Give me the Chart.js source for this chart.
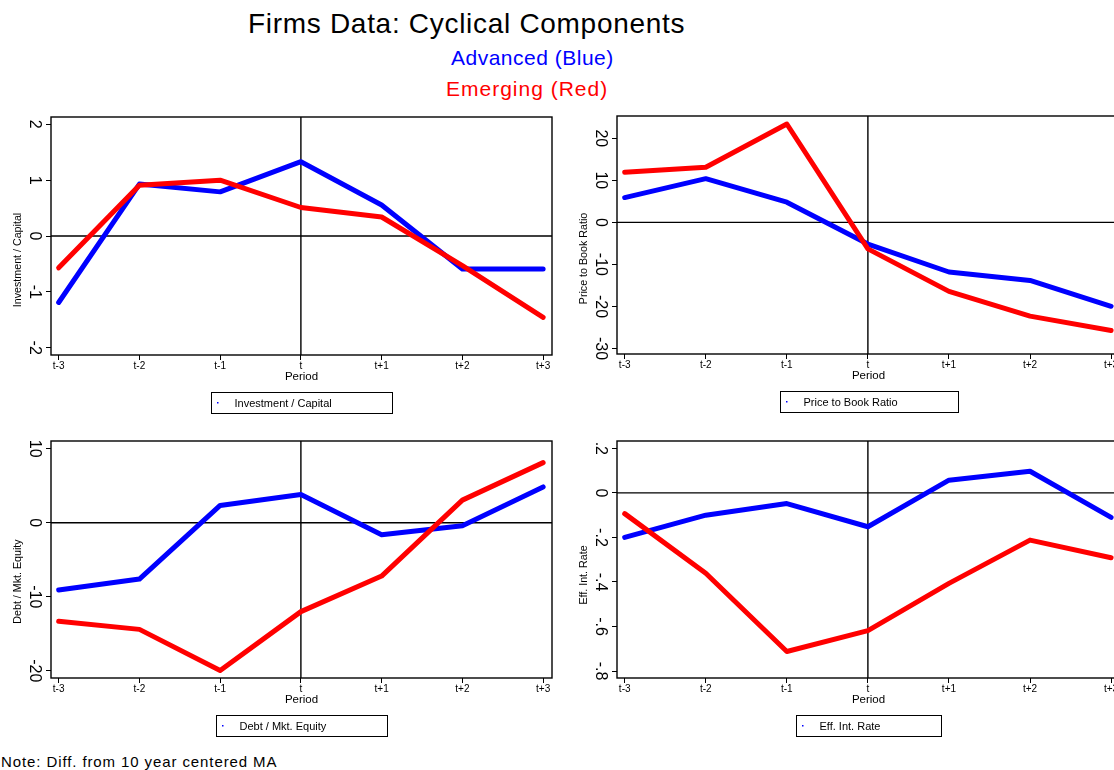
<!DOCTYPE html>
<html>
<head>
<meta charset="utf-8">
<title>Firms Data: Cyclical Components</title>
<script src="https://cdn.jsdelivr.net/npm/chart.js@4.4.0/dist/chart.umd.min.js"></script>
<style>
  html, body { margin: 0; padding: 0; background: #fff; overflow: hidden; }
  #page { position: relative; width: 1114px; height: 770px; overflow: hidden;
          font-family: "Liberation Sans", Arial, sans-serif; }
  .txt { position: absolute; white-space: nowrap; line-height: 1; }
  canvas { position: absolute; }
</style>
</head>
<body>
<div id="page">
  <div class="txt" style="left:248px;top:10px;font-size:28px;letter-spacing:0.7px;color:#000">Firms Data: Cyclical Components</div>
  <div class="txt" style="left:451px;top:47px;font-size:21px;letter-spacing:0.5px;color:#0000ff">Advanced (Blue)</div>
  <div class="txt" style="left:446px;top:78px;font-size:21px;letter-spacing:1px;color:#ff0000">Emerging (Red)</div>

  <canvas id="panelInv"  width="560" height="310" style="left:0;top:110px"></canvas>
  <canvas id="panelPtb"  width="570" height="310" style="left:560px;top:110px"></canvas>
  <canvas id="panelDebt" width="560" height="310" style="left:0;top:434px"></canvas>
  <canvas id="panelRate" width="570" height="310" style="left:560px;top:434px"></canvas>

  <div class="txt" style="left:1px;top:754px;font-size:15px;letter-spacing:0.9px;color:#000">Note: Diff. from 10 year centered MA</div>
</div>

<script>
// Event window around the cycle turning point
const periods = ['t-3', 't-2', 't-1', 't', 't+1', 't+2', 't+3'];

// Investment / Capital
const invCapAdvanced = [-1.19, 0.93, 0.79, 1.33, 0.555, -0.59, -0.59];
const invCapEmerging = [-0.57, 0.91, 1.00, 0.51, 0.34, -0.53, -1.455];
const invCapTicks    = [-2, -1, 0, 1, 2];

// Price to Book Ratio
const ptbAdvanced = [5.9, 10.4, 4.8, -5.15, -11.8, -13.8, -19.95];
const ptbEmerging = [11.9, 13.1, 23.4, -6.3, -16.4, -22.3, -25.7];
const ptbTicks    = [-30, -20, -10, 0, 10, 20];

// Debt / Mkt. Equity
const debtAdvanced = [-9.08, -7.6, 2.34, 3.82, -1.62, -0.4, 4.85];
const debtEmerging = [-13.3, -14.4, -19.95, -12.0, -7.2, 3.06, 8.13];
const debtTicks    = [-20, -10, 0, 10];

// Eff. Int. Rate
const rateAdvanced = [-0.2, -0.1, -0.048, -0.152, 0.057, 0.097, -0.11];
const rateEmerging = [-0.093, -0.361, -0.712, -0.618, -0.406, -0.212, -0.291];
const rateTicks    = [-0.8, -0.6, -0.4, -0.2, 0, 0.2];

const FONT = '"Liberation Sans", Arial, sans-serif';
const BLUE = '#0000ff';
const RED = '#ff0000';
const Y_TICK_SIZE = 16;

// Stata-style numbers: ".2" and "-.4" without the leading zero
function shortNumber(v) {
  return String(Math.round(v * 1000) / 1000).replace(/^(-?)0\./, '$1.');
}

const measureCtx = document.createElement('canvas').getContext('2d');
function widestLabel(values) {
  measureCtx.font = Y_TICK_SIZE + 'px ' + FONT;
  return Math.max(...values.map(v => measureCtx.measureText(shortNumber(v)).width));
}

// Frame, zero line, vertical line at t, rotated y title and boxed legend
const panelDecor = {
  id: 'panelDecor',
  beforeDatasetsDraw(chart, args, opts) {
    const { ctx, chartArea: a, scales: { x, y } } = chart;
    const y0 = y.getPixelForValue(0);
    const xt = x.getPixelForValue(periods.indexOf('t'));
    ctx.save();
    ctx.strokeStyle = '#000';
    ctx.lineWidth = 1.4;
    ctx.beginPath();
    ctx.moveTo(a.left, y0); ctx.lineTo(a.right, y0);
    ctx.moveTo(xt, a.top);  ctx.lineTo(xt, a.bottom);
    ctx.stroke();
    ctx.strokeRect(a.left, a.top, a.right - a.left, a.bottom - a.top);
    ctx.restore();
  },
  afterDraw(chart, args, opts) {
    const { ctx, chartArea: a } = chart;
    ctx.save();
    // y-axis title
    ctx.font = '10.7px ' + FONT;
    ctx.fillStyle = '#000';
    ctx.textAlign = 'center';
    ctx.textBaseline = 'middle';
    ctx.translate(a.left - 32.5, (a.top + a.bottom) / 2 + opts.titleShift);
    ctx.rotate(-Math.PI / 2);
    ctx.fillText(opts.name, 0, 0);
    ctx.restore();

    // legend box under the plot
    ctx.save();
    ctx.font = '11px ' + FONT;
    const w = ctx.measureText(opts.name).width;
    const boxW = Math.round(23 + w + 61);
    const boxH = 21;
    const left = Math.round((a.left + a.right) / 2 - boxW / 2) + 0.5;
    const top = Math.round(a.bottom + 37) + 0.5;
    ctx.strokeStyle = '#000';
    ctx.lineWidth = 1;
    ctx.strokeRect(left, top, boxW, boxH);
    ctx.fillStyle = BLUE;
    ctx.fillRect(left + 5.5, top + boxH / 2 - 1, 1.5, 1.5);
    ctx.fillStyle = '#000';
    ctx.textAlign = 'left';
    ctx.textBaseline = 'middle';
    ctx.fillText(opts.name, left + 23, top + boxH / 2 + 0.5);
    ctx.restore();
  }
};

function series(values) {
  return values.map((v, i) => ({ x: i, y: v }));
}

function makePanel(cfg) {
  const yPad = 12 - widestLabel(cfg.ticks) / 2;
  const lineStyle = {
    borderWidth: 5, pointRadius: 0, tension: 0, fill: false,
    borderJoinStyle: 'round', borderCapStyle: 'round'
  };
  return new Chart(document.getElementById(cfg.canvas), {
    type: 'line',
    data: {
      datasets: [
        Object.assign({ label: 'Advanced', data: series(cfg.advanced), borderColor: BLUE, order: 2 }, lineStyle),
        Object.assign({ label: 'Emerging', data: series(cfg.emerging), borderColor: RED, order: 1 }, lineStyle)
      ]
    },
    options: {
      responsive: false,
      animation: false,
      devicePixelRatio: 1,
      layout: { padding: cfg.padding },
      plugins: {
        legend: { display: false },
        tooltip: { enabled: false },
        panelDecor: { name: cfg.name, titleShift: cfg.titleShift }
      },
      scales: {
        x: {
          type: 'linear',
          min: -0.095,
          max: 6.11,
          afterBuildTicks: s => { s.ticks = periods.map((p, i) => ({ value: i })); },
          afterFit: s => { s.height = 29; s.paddingLeft = 0; s.paddingRight = 0; },
          ticks: {
            autoSkip: false, maxRotation: 0, minRotation: 0, padding: 0,
            color: '#000', font: { family: FONT, size: 10 },
            callback: v => periods[v]
          },
          grid: { drawOnChartArea: false, drawTicks: true, tickLength: 5, tickColor: '#000', lineWidth: 1 },
          border: { display: false },
          title: { display: true, text: 'Period', color: '#000', padding: 0, font: { family: FONT, size: 11.5 } }
        },
        y: {
          type: 'linear',
          min: cfg.min,
          max: cfg.max,
          afterBuildTicks: s => { s.ticks = cfg.ticks.map(v => ({ value: v })); },
          afterFit: s => { s.width = cfg.axisWidth; s.paddingTop = 0; s.paddingBottom = 0; },
          ticks: {
            autoSkip: false, minRotation: -90, crossAlign: 'center', padding: yPad,
            color: '#000', font: { family: FONT, size: Y_TICK_SIZE },
            callback: v => shortNumber(v)
          },
          grid: { drawOnChartArea: false, drawTicks: true, tickLength: 5, tickColor: '#000', lineWidth: 1 },
          border: { display: false }
        }
      }
    },
    plugins: [panelDecor]
  });
}

makePanel({ canvas: 'panelInv', name: 'Investment / Capital',
  advanced: invCapAdvanced, emerging: invCapEmerging, ticks: invCapTicks,
  min: -2.13, max: 2.13, axisWidth: 51, titleShift: 24,
  padding: { left: 0, top: 7, right: 8, bottom: 36 } });

makePanel({ canvas: 'panelPtb', name: 'Price to Book Ratio',
  advanced: ptbAdvanced, emerging: ptbEmerging, ticks: ptbTicks,
  min: -31.3, max: 25.3, axisWidth: 57, titleShift: 23.5,
  padding: { left: 0, top: 6, right: 10, bottom: 37 } });

makePanel({ canvas: 'panelDebt', name: 'Debt / Mkt. Equity',
  advanced: debtAdvanced, emerging: debtEmerging, ticks: debtTicks,
  min: -20.97, max: 11.05, axisWidth: 51, titleShift: 22,
  padding: { left: 0, top: 7, right: 8, bottom: 37 } });

makePanel({ canvas: 'panelRate', name: 'Eff. Int. Rate',
  advanced: rateAdvanced, emerging: rateEmerging, ticks: rateTicks,
  min: -0.831, max: 0.233, axisWidth: 57, titleShift: 15.5,
  padding: { left: 0, top: 7, right: 10, bottom: 37 } });
</script>
</body>
</html>
